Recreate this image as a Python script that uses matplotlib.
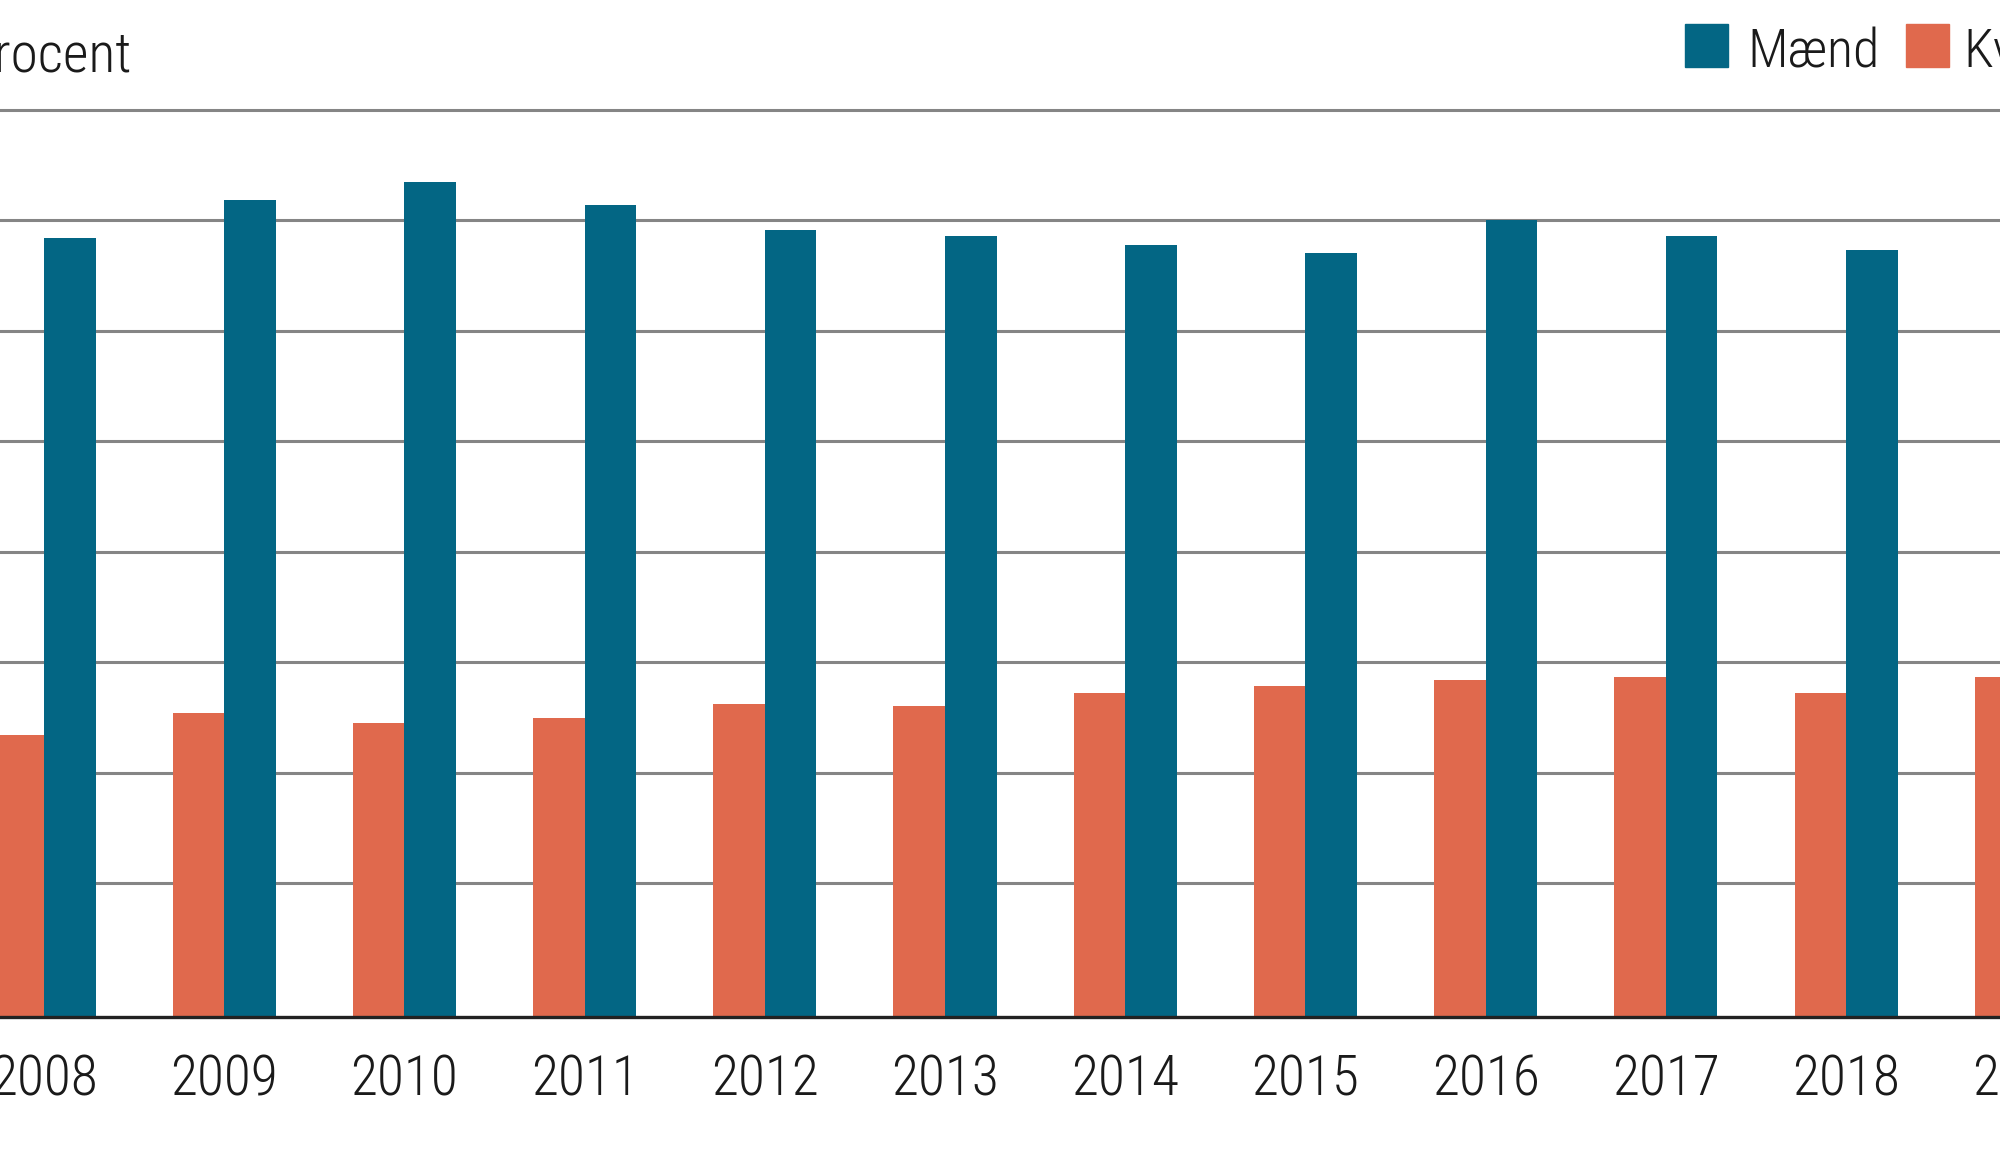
import matplotlib
matplotlib.use("Agg")
import matplotlib.pyplot as plt
from matplotlib.patches import Rectangle
import numpy as np

years = ["2008", "2009", "2010", "2011", "2012", "2013", "2014", "2015", "2016", "2017", "2018", "2019"]
maend = [70.5, 73.9, 75.6, 73.5, 71.2, 70.7, 69.9, 69.1, 72.1, 70.7, 69.4, np.nan]
kvinder = [25.5, 27.5, 26.6, 27.1, 28.3, 28.1, 29.3, 30.0, 30.5, 30.8, 29.3, 30.8]
grid_levels = [12.1, 22.1, 32.1, 42.1, 52.1, 62.1, 72.1, 82.1]
series_labels = ["Mænd", "Kvinder"]
y_label = "Procent"

C_M = "#036684"
C_K = "#E0694D"
FONT = ["Roboto Condensed", "Liberation Sans Narrow", "Roboto", "DejaVu Sans"]
plt.rcParams["font.family"] = FONT
plt.rcParams["savefig.bbox"] = "standard"
FW = "light"
TC = "#1a1a1a"

W, H = 2000, 1165
fig = plt.figure(figsize=(W / 100, H / 100), dpi=100)
base_px = 1017
ax = fig.add_axes([0, (H - base_px) / H, 1, base_px / H])

x = np.arange(len(years))
bw = 51.5 / 180.2
ax.bar(x - bw / 2, kvinder, width=bw, color=C_K, zorder=2)
ax.bar(x + bw / 2, maend, width=bw, color=C_M, zorder=2)

for g in grid_levels:
    ax.axhline(g, color="#858585", lw=2.2, zorder=1)
ax.axhline(0, color="#222222", lw=2.4, zorder=3, clip_on=False)

ax.set_xticks([])
ax.set_xlim(-44 / 180.2, (W - 44) / 180.2)
ax.set_ylim(0, base_px / 11.05)
ax.set_yticks([])
for s in ax.spines.values():
    s.set_visible(False)

# year labels (the last one runs past the right edge, as in the reference)
for xi, lab in zip(x, years):
    ax.annotate(lab, xy=(xi, 0), xycoords=ax.get_xaxis_transform(),
                xytext=(0, -26), textcoords="offset points",
                ha="center", va="top", fontsize=40, color=TC, fontweight=FW,
                annotation_clip=False)

def fx(px):
    return px / W

def fy(py):
    return 1 - py / H

fig.text(fx(-36), fy(72), y_label, fontsize=40, color=TC, ha="left", va="baseline", fontweight=FW)

fig.add_artist(Rectangle((fx(1685), fy(67)), fx(43), 43 / H, transform=fig.transFigure, color=C_M))
fig.text(fx(1747), fy(67), series_labels[0], fontsize=39, color=TC, ha="left", va="baseline", fontweight=FW)
fig.add_artist(Rectangle((fx(1906), fy(67)), fx(43), 43 / H, transform=fig.transFigure, color=C_K))
fig.text(fx(1963), fy(67), series_labels[1], fontsize=39, color=TC, ha="left", va="baseline", fontweight=FW)

fig.savefig("out.png", dpi=100, facecolor="white", bbox_inches=None)
